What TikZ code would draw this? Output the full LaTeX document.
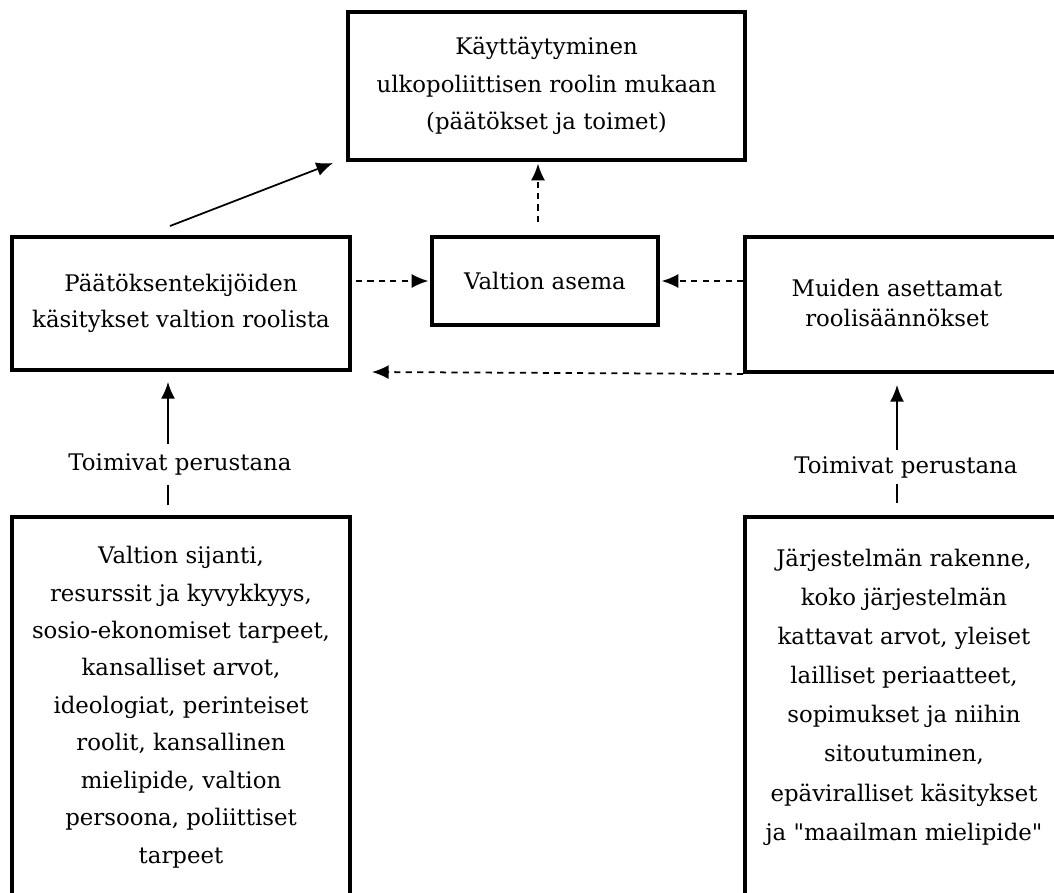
\documentclass[tikz,border=0pt]{standalone}
\usepackage{fontspec}
\setmainfont{DejaVu Serif}[Ligatures=TeXOff]
\usetikzlibrary{arrows.meta}

\begin{document}
\begin{tikzpicture}[
            x = 0.02cm, y = -0.02cm,
            every node/.style={align=center, font=\fontsize{13}{21.3}\selectfont},
            box/.style={draw, line width = 2.2pt, inner sep = 0pt},
            line/.style={line width = 1pt, -{Latex[length=9.5pt, width=8pt]}},
            dline/.style={line, dash pattern=on 3.5pt off 3pt},
            tag/.style={fill=white, inner xsep=2pt},
            ]
        \useasboundingbox (0, 0) rectangle (1054, 892);
        \clip (0, 0) rectangle (1054, 892);

        \node[box, minimum width=397*0.02cm, minimum height=148*0.02cm] (behav) at (546.5, 86)
            {Käyttäytyminen\\ulkopoliittisen roolin mukaan\\(päätökset ja toimet)};
        \node[box, minimum width=338*0.02cm, minimum height=133*0.02cm] (view) at (181, 303.5)
            {Päätöksentekijöiden\\[-1pt]käsitykset valtion roolista};
        \node[box, minimum width=226*0.02cm, minimum height=88*0.02cm] (state) at (545, 281)
            {Valtion asema};
        \node[box, minimum width=340*0.02cm, minimum height=135*0.02cm] (rules) at (915, 304.5) {};
        \node (rulestext) at (897, 303) {Muiden asettamat\\[-4pt]roolisäännökset};

        \node[box, minimum width=338*0.02cm, minimum height=380*0.02cm] (base) at (181, 707)
            {Valtion sijanti,\\resurssit ja kyvykkyys,\\sosio-ekonomiset tarpeet,\\kansalliset arvot,\\ideologiat, perinteiset\\roolit, kansallinen\\mielipide, valtion\\persoona, poliittiset\\tarpeet};
        \node[box, minimum width=340*0.02cm, minimum height=400*0.02cm] (system) at (915, 717) {};
        \node (systemtext) at (904, 697)
            {Järjestelmän rakenne,\\[1pt]koko järjestelmän\\[1pt]kattavat arvot, yleiset\\[1pt]lailliset periaatteet,\\[1pt]sopimukset ja niihin\\[1pt]sitoutuminen,\\[1pt]epäviralliset käsitykset\\[1pt]ja "maailman mielipide"};

        \coordinate (a1) at (170, 226);
        \coordinate (a2) at (333, 163);
        \coordinate (c1) at (538, 222);
        \coordinate (c2) at (372, 372);
        \coordinate (l1) at (168, 505);
        \coordinate (l2) at (168, 382);
        \coordinate (r1) at (897, 503);
        \coordinate (r2) at (897, 385);

        \draw[line] (a1) -- (a2);
        \draw[dline, shorten <=2.3pt, shorten >=1pt] (view.east |- state.west) -- (state.west);
        \draw[dline, shorten >=1pt] (c1) -- (c1 |- behav.south);
        \draw[dline, shorten >=1pt] (rules.west |- state.east) -- (state.east);
        \draw[dline] (rules.south west) -- (c2);
        \draw[line] (l1) -- node[tag, pos=.33, xshift=0.24cm, inner ysep=5.5pt] (ltag) {Toimivat perustana} (l2);
        \draw[line] (r1) -- node[tag, pos=.305, xshift=0.18cm, inner ysep=3.5pt] (rtag) {Toimivat perustana} (r2);
    \end{tikzpicture}
\end{document}
